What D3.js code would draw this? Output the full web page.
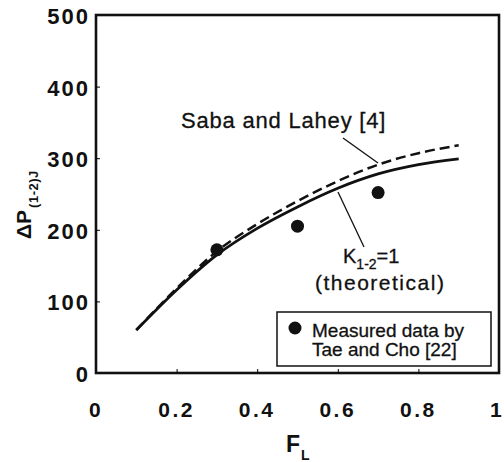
<!DOCTYPE html>
<html>
<head>
<meta charset="utf-8">
<script src="https://cdn.jsdelivr.net/npm/d3@7"></script>
<style>
  body { margin: 0; background: #fff; }
  text { font-family: "Liberation Sans", Arial, sans-serif; fill: #111; }
</style>
</head>
<body>
<div id="chart"></div>
<script>
// data
var fl = [0.1, 0.2, 0.3, 0.4, 0.5, 0.6, 0.7, 0.8, 0.9];
var theoretical = [60, 116, 165, 202, 232, 258, 278, 291, 299];
var sabaLahey = [60, 118, 170, 208, 240, 268, 291, 307, 318];
var measuredF = [0.3, 0.5, 0.7];
var measuredP = [172, 205, 252];
var xTicks = [0, 0.2, 0.4, 0.6, 0.8, 1];
var yTicks = [0, 100, 200, 300, 400, 500];

var width = 504, height = 462;
var margin = { left: 96, right: 5, top: 15, bottom: 89 };

var svg = d3.select("#chart").append("svg")
    .attr("width", width)
    .attr("height", height);

var x = d3.scaleLinear().domain([0, 1]).range([margin.left, width - margin.right]);
var y = d3.scaleLinear().domain([0, 500]).range([height - margin.bottom, margin.top]);

// frame
svg.append("rect")
    .attr("x", x(0))
    .attr("y", y(500))
    .attr("width", x(1) - x(0))
    .attr("height", y(0) - y(500))
    .attr("fill", "none")
    .attr("stroke", "#111")
    .attr("stroke-width", 2.6);

// small inward ticks
svg.append("g")
    .attr("transform", "translate(0," + y(0) + ")")
    .call(d3.axisTop(x).tickValues(xTicks.slice(1, -1)).tickSize(4).tickFormat(""))
    .call(function (g) { g.select(".domain").remove(); });
svg.append("g")
    .attr("transform", "translate(" + x(0) + ",0)")
    .call(d3.axisRight(y).tickValues(yTicks.slice(1, -1)).tickSize(4).tickFormat(""))
    .call(function (g) { g.select(".domain").remove(); });

// tick labels
svg.append("g").selectAll("text")
    .data(xTicks)
    .enter().append("text")
    .attr("x", function (d) { return d == 1 ? x(d) - 2 : x(d); })
    .attr("y", 417)
    .attr("text-anchor", "middle")
    .attr("font-size", "21px")
    .attr("font-weight", "bold")
    .attr("letter-spacing", "2.5")
    .text(function (d) { return d; });

svg.append("g").selectAll("text")
    .data(yTicks)
    .enter().append("text")
    .attr("x", 90)
    .attr("y", function (d) { return y(d) + 9; })
    .attr("text-anchor", "end")
    .attr("font-size", "22px")
    .attr("font-weight", "bold")
    .attr("letter-spacing", "2")
    .text(function (d) { return d; });

// axis titles
var xt = svg.append("text")
    .attr("x", 286)
    .attr("y", 452)
    .attr("font-size", "23px")
    .attr("font-weight", "bold");
xt.append("tspan").text("F");
xt.append("tspan").attr("font-size", "14px").attr("dx", 1).attr("dy", 8).text("L");

var yt = svg.append("text")
    .attr("transform", "translate(31,239) rotate(-90)")
    .attr("font-size", "21px")
    .attr("font-weight", "bold");
yt.append("tspan").text("ΔP");
yt.append("tspan").attr("font-size", "13px").attr("dx", 2).attr("dy", 7).attr("letter-spacing", "0.5").text("(1-2)J");

// curves
var line = d3.line()
    .x(function (d, i) { return x(fl[i]); })
    .y(function (d) { return y(d); })
    .curve(d3.curveMonotoneX);

svg.append("path")
    .datum(theoretical)
    .attr("d", line)
    .attr("fill", "none")
    .attr("stroke", "#111")
    .attr("stroke-width", 2.8);

svg.append("path")
    .datum(sabaLahey)
    .attr("d", line)
    .attr("fill", "none")
    .attr("stroke", "#111")
    .attr("stroke-width", 2.5)
    .attr("stroke-dasharray", "10,5");

// measured points
svg.append("g").selectAll("circle")
    .data(measuredF)
    .enter().append("circle")
    .attr("cx", function (d) { return x(d); })
    .attr("cy", function (d, i) { return y(measuredP[i]); })
    .attr("r", 6.5)
    .attr("fill", "#111");

// annotations
svg.append("text")
    .attr("x", 181)
    .attr("y", 128)
    .attr("font-size", "22px")
    .attr("letter-spacing", "0.8")
    .attr("stroke", "#111")
    .attr("stroke-width", 0.3)
    .text("Saba and Lahey [4]");
svg.append("line")
    .attr("x1", 343).attr("y1", 138)
    .attr("x2", 378).attr("y2", 163)
    .attr("stroke", "#111").attr("stroke-width", 1.3);

svg.append("line")
    .attr("x1", 338).attr("y1", 192)
    .attr("x2", 364).attr("y2", 247)
    .attr("stroke", "#111").attr("stroke-width", 1.3);
var kt = svg.append("text")
    .attr("x", 343)
    .attr("y", 263)
    .attr("font-size", "20px")
    .attr("stroke", "#111")
    .attr("stroke-width", 0.3);
kt.append("tspan").text("K");
kt.append("tspan").attr("font-size", "14px").attr("dy", 6).text("1-2");
kt.append("tspan").attr("dy", -6).text("=1");
svg.append("text")
    .attr("x", 315)
    .attr("y", 290)
    .attr("font-size", "21px")
    .attr("letter-spacing", "1.5")
    .attr("stroke", "#111")
    .attr("stroke-width", 0.3)
    .text("(theoretical)");

// legend
svg.append("rect")
    .attr("x", 277).attr("y", 312)
    .attr("width", 214).attr("height", 54)
    .attr("fill", "#fff")
    .attr("stroke", "#111")
    .attr("stroke-width", 1.5);
svg.append("circle")
    .attr("cx", 295).attr("cy", 328).attr("r", 6.5).attr("fill", "#111");
svg.append("text")
    .attr("x", 312).attr("y", 337)
    .attr("font-size", "19px")
    .attr("stroke", "#111")
    .attr("stroke-width", 0.3)
    .text("Measured data by");
svg.append("text")
    .attr("x", 312).attr("y", 356)
    .attr("font-size", "19px")
    .attr("stroke", "#111")
    .attr("stroke-width", 0.3)
    .text("Tae and Cho [22]");
</script>
</body>
</html>
